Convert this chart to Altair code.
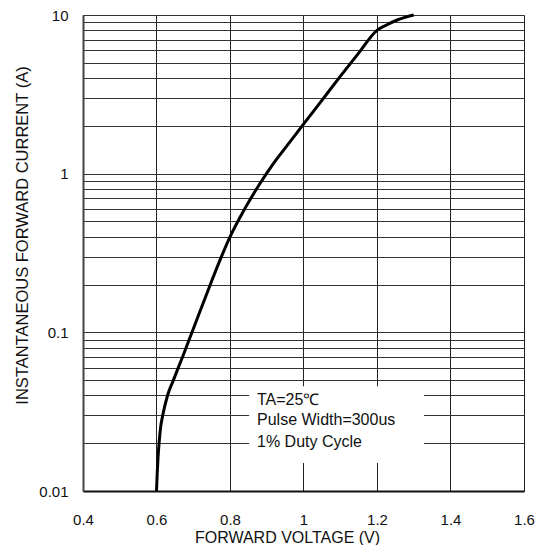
import altair as alt
import pandas as pd

# Curve (forward voltage V, current A)
vf = [0.600, 0.602, 0.604, 0.607, 0.611, 0.617, 0.630, 0.646, 0.673, 0.700,
      0.746, 0.770, 0.800, 0.840, 0.882, 0.917, 0.950, 1.000, 1.050, 1.100,
      1.150, 1.200, 1.226, 1.255, 1.300]
iF = [0.010, 0.013, 0.016, 0.020, 0.025, 0.030, 0.040, 0.050, 0.072, 0.105,
      0.199, 0.275, 0.400, 0.600, 0.870, 1.150, 1.450, 2.050, 2.900, 4.100,
      5.750, 8.000, 8.650, 9.300, 10.00]

x_ticks = [0.4, 0.6, 0.8, 1.0, 1.2, 1.4, 1.6]
y_grid = [0.01, 0.02, 0.03, 0.04, 0.05, 0.06, 0.07, 0.08, 0.09,
          0.1, 0.2, 0.3, 0.4, 0.5, 0.6, 0.7, 0.8, 0.9,
          1, 2, 3, 4, 5, 6, 7, 8, 9, 10]
y_labels = [0.01, 0.1, 1, 10]

note_text = ["TA=25℃", "Pulse Width=300us", "1% Duty Cycle"]
note_x = [0.8735, 0.8735, 0.8735]
note_y = [0.0347, 0.026, 0.019]
box_x = [0.852]
box_x2 = [1.328]
box_y = [0.015]
box_y2 = [0.0457]

curve_df = pd.DataFrame({"v": vf, "i": iF})
note_df = pd.DataFrame({"t": note_text, "x": note_x, "y": note_y})
box_df = pd.DataFrame({"x": box_x, "x2": box_x2, "y": box_y, "y2": box_y2})

FONT = "Liberation Sans"

xscale = alt.Scale(domain=[0.4, 1.6], nice=False, zero=False)
yscale = alt.Scale(type="log", domain=[0.01, 10], nice=False)

label_expr = "indexof(%s, datum.value) >= 0 ? format(datum.value, '~g') : ''" % str(y_labels)

xaxis = alt.Axis(values=x_ticks, format="~g", title="FORWARD VOLTAGE (V)",
                 grid=True, gridColor="#222", gridWidth=1, gridOpacity=1,
                 ticks=False, labelPadding=21, labelFontSize=15, labelFont=FONT,
                 labelColor="#111", titleFont=FONT, titleFontSize=16,
                 titleFontWeight="normal", titleColor="#111",
                 titleX=204, titleY=51, titleAlign="center",
                 titleBaseline="alphabetic",
                 domainColor="#111", domainWidth=2, labelFlush=False)
yaxis = alt.Axis(values=y_grid, labelExpr=label_expr,
                 title="INSTANTANEOUS FORWARD CURRENT (A)",
                 grid=True, gridColor="#333", gridWidth=1, gridOpacity=1,
                 ticks=False, labelPadding=15, labelFontSize=15, labelFont=FONT,
                 labelColor="#111", titleFont=FONT, titleFontSize=16.5,
                 titleFontWeight="normal", titleColor="#111",
                 titleAngle=270, titleX=-56, titleY=220, titleAlign="center",
                 titleBaseline="alphabetic", domainColor="#444", domainWidth=2,
                 labelFlush=False)

curve = alt.Chart(curve_df).mark_line(color="black", strokeWidth=3,
                                      interpolate="monotone").encode(
    x=alt.X("v:Q", scale=xscale, axis=xaxis),
    y=alt.Y("i:Q", scale=yscale, axis=yaxis),
    order="v:Q",
)

box = alt.Chart(box_df).mark_rect(color="white", opacity=1).encode(
    x=alt.X("x:Q", scale=xscale), x2="x2:Q",
    y=alt.Y("y:Q", scale=yscale), y2="y2:Q",
)

notes = alt.Chart(note_df).mark_text(align="left", baseline="alphabetic",
                                     font=FONT, fontSize=16, color="#111").encode(
    x=alt.X("x:Q", scale=xscale), y=alt.Y("y:Q", scale=yscale), text="t:N")

chart = alt.layer(box, notes, curve).properties(
    width=441, height=476,
    padding={"left": 75, "top": 7, "right": 12, "bottom": 54},
    autosize=alt.AutoSizeParams(type="none"),
).configure_view(stroke="#999", strokeWidth=2).configure(background="white")

chart.save("out.html", embed_options={"renderer": "svg", "actions": False})
